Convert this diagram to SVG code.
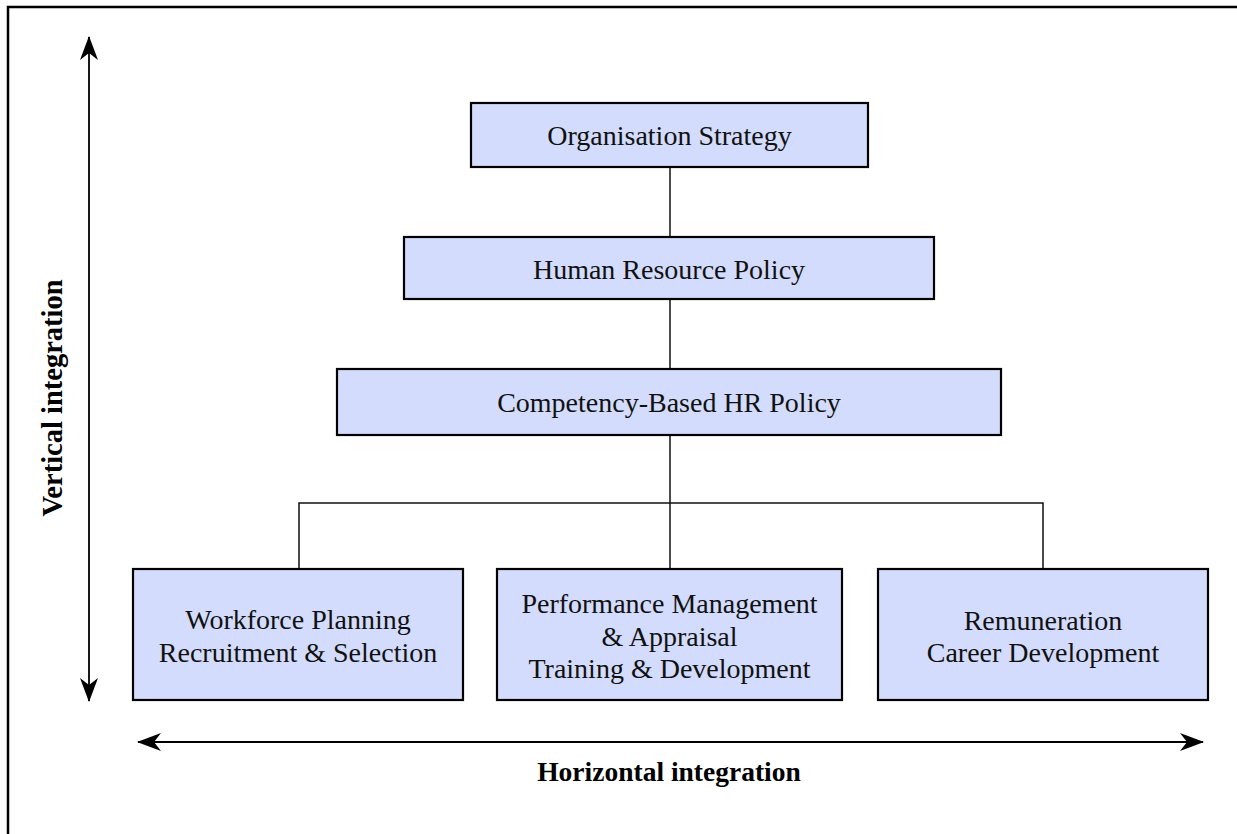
<svg xmlns="http://www.w3.org/2000/svg" width="1237" height="834" viewBox="0 0 1237 834">
<style>
.box{fill:#D3DCFC;stroke:#000;stroke-width:2.2}
.t{font-family:"Liberation Serif","Times New Roman",serif;font-size:28px;fill:#111;text-anchor:middle}
.b{font-family:"Liberation Serif","Times New Roman",serif;font-size:27.5px;font-weight:bold;fill:#000;text-anchor:middle}
.con{stroke:#111;stroke-width:1.5;fill:none}
.arr{stroke:#000;stroke-width:1.8;fill:none}
</style>
<defs>
<marker id="ah" viewBox="0 0 24 18" refX="23" refY="9" markerWidth="24" markerHeight="18" markerUnits="userSpaceOnUse" orient="auto-start-reverse">
<path d="M0,0 L24,9 L0,18 L7,9 Z" fill="#000"/>
</marker>
</defs>
<rect x="0" y="0" width="1237" height="834" fill="#fff"/>
<rect id="frame" x="8" y="7" width="1260" height="860" fill="none" stroke="#000" stroke-width="2.5"/>
<g id="connectors">
<line class="con" x1="670" y1="167" x2="670" y2="237"/>
<line class="con" x1="670" y1="299" x2="670" y2="369"/>
<line class="con" x1="670" y1="435" x2="670" y2="569"/>
<polyline class="con" points="299,569 299,503 1043,503 1043,569"/>
</g>
<g id="vertical-axis">
<line class="arr" x1="89" y1="701" x2="89" y2="37" marker-start="url(#ah)" marker-end="url(#ah)"/>
<text class="b" transform="translate(62,398) rotate(-90)" style="font-size:28.5px">Vertical integration</text>
</g>
<g id="horizontal-axis">
<line class="arr" x1="138" y1="742" x2="1203" y2="742" marker-start="url(#ah)" marker-end="url(#ah)"/>
<text class="b" x="669" y="781">Horizontal integration</text>
</g>
<g id="org-strategy">
<rect class="box" x="471" y="103" width="397" height="64"/>
<text class="t" x="669.5" y="145">Organisation Strategy</text>
</g>
<g id="hr-policy">
<rect class="box" x="404" y="237" width="530" height="62"/>
<text class="t" x="669" y="279">Human Resource Policy</text>
</g>
<g id="competency-policy">
<rect class="box" x="337" y="369" width="664" height="66"/>
<text class="t" x="669" y="412">Competency-Based HR Policy</text>
</g>
<g id="workforce">
<rect class="box" x="133" y="569" width="330" height="131"/>
<text class="t" x="298" y="629">Workforce Planning</text>
<text class="t" x="298" y="662">Recruitment &amp; Selection</text>
</g>
<g id="performance">
<rect class="box" x="497" y="569" width="345" height="131"/>
<text class="t" x="669.5" y="613">Performance Management</text>
<text class="t" x="669.5" y="646">&amp; Appraisal</text>
<text class="t" x="669.5" y="678">Training &amp; Development</text>
</g>
<g id="remuneration">
<rect class="box" x="878" y="569" width="330" height="131"/>
<text class="t" x="1043" y="630">Remuneration</text>
<text class="t" x="1043" y="662">Career Development</text>
</g>
</svg>
